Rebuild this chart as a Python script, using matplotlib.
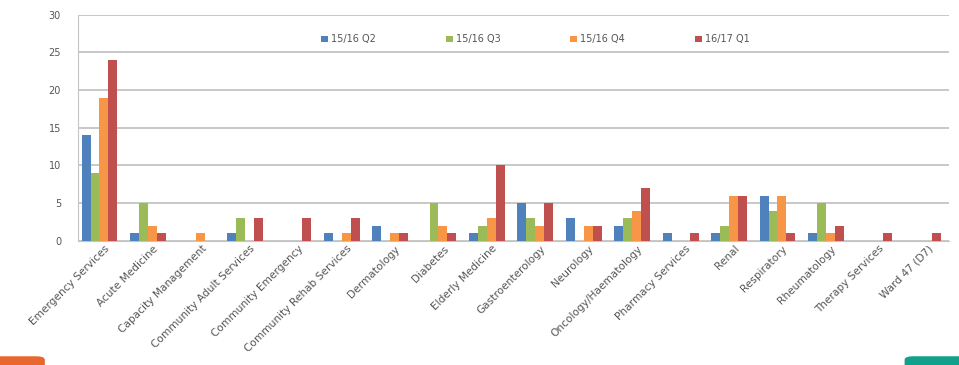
import matplotlib.pyplot as plt
import matplotlib.patches as mpatches
import numpy as np

categories = ["Emergency Services", "Acute Medicine", "Capacity Management",
              "Community Adult Services", "Community Emergency",
              "Community Rehab Services", "Dermatology", "Diabetes",
              "Elderly Medicine", "Gastroenterology", "Neurology",
              "Oncology/Haematology", "Pharmacy Services", "Renal",
              "Respiratory", "Rheumatology", "Therapy Services", "Ward 47 (D7)"]
series_names = ["15/16 Q2", "15/16 Q3", "15/16 Q4", "16/17 Q1"]
q2_1516 = [14, 1, 0, 1, 0, 1, 2, 0, 1, 5, 3, 2, 1, 1, 6, 1, 0, 0]
q3_1516 = [9, 5, 0, 3, 0, 0, 0, 5, 2, 3, 0, 3, 0, 2, 4, 5, 0, 0]
q4_1516 = [19, 2, 1, 0, 0, 1, 1, 2, 3, 2, 2, 4, 0, 6, 6, 1, 0, 0]
q1_1617 = [24, 1, 0, 3, 3, 3, 1, 1, 10, 5, 2, 7, 1, 6, 1, 2, 1, 1]
colors = ["#4F81BD", "#9BBB59", "#F79646", "#C0504D"]

fig = plt.figure(figsize=(9.59, 3.65), dpi=100)
ax = fig.add_axes([0.081, 0.34, 0.909, 0.62])

x = np.arange(len(categories))
w = 0.185
for i, vals in enumerate([q2_1516, q3_1516, q4_1516, q1_1617]):
    ax.bar(x + (i - 1.5) * w, vals, width=w, color=colors[i],
           label=series_names[i], zorder=3)

ax.set_ylim(0, 30)
ax.set_yticks(range(0, 31, 5))
ax.set_xlim(-0.45, len(categories) - 0.45)
ax.grid(axis="y", color="#c4c4c4", linewidth=1.3, zorder=0)
for s in ["top", "right"]:
    ax.spines[s].set_visible(False)
ax.spines["left"].set_color("#c4c4c4")
ax.spines["bottom"].set_color("#c4c4c4")
ax.tick_params(axis="y", length=0, labelsize=7, labelcolor="#555555", pad=12)
ax.tick_params(axis="x", length=0, labelsize=7.6, labelcolor="#555555", pad=2)
ax.set_xticks(x + 0.1)
ax.set_xticklabels(categories, rotation=45, ha="right", rotation_mode="anchor")

ax.legend(loc="center", bbox_to_anchor=(0.525, 0.89), ncol=4, frameon=False,
          fontsize=7, handlelength=0.7, handleheight=0.7, handletextpad=0.3,
          columnspacing=7.2, labelcolor="#555555")

# slide corner tabs
fig.patches.append(mpatches.FancyBboxPatch(
    (-0.01, -0.03), 0.056, 0.052, boxstyle="round,pad=0,rounding_size=0.008",
    transform=fig.transFigure, color="#E8672F", zorder=5))
fig.patches.append(mpatches.FancyBboxPatch(
    (0.944, -0.03), 0.07, 0.052, boxstyle="round,pad=0,rounding_size=0.008",
    transform=fig.transFigure, color="#12A08A", zorder=5))

fig.savefig("out.png", dpi=100)
